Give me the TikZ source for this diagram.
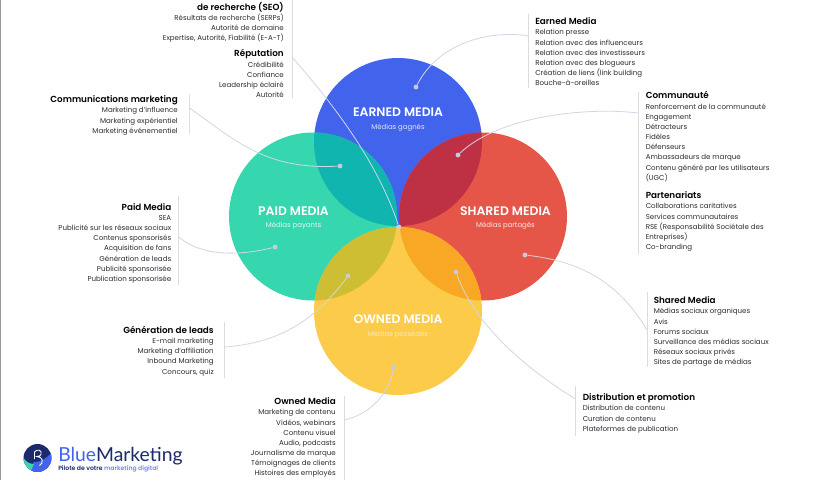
\documentclass[tikz,border=0pt]{standalone}
\usepackage{fontspec}
\setmainfont{Poppins}
\newfontfamily\hfont{Poppins SemiBold}
\newfontfamily\lfont{Lato}
\definecolor{cblue}{HTML}{4263EB}
\definecolor{cgreen}{HTML}{36D6AE}
\definecolor{cred}{HTML}{E55648}
\definecolor{cyellow}{HTML}{FBCB49}
\definecolor{cteal}{HTML}{10B5B0}
\definecolor{ccrim}{HTML}{BE3145}
\definecolor{colive}{HTML}{CDBE34}
\definecolor{corange}{HTML}{F8A825}
\definecolor{cline}{HTML}{D3D6E4}
\definecolor{cbar}{HTML}{DADCE2}
\definecolor{cdot}{HTML}{C7CCDD}
\definecolor{ctext}{HTML}{2C2C34}
\definecolor{cnavy}{HTML}{1A2A6C}
\tikzset{
  txt/.style={inner sep=0pt,font=\fontsize{5.3}{7.63}\selectfont,text=ctext},
  rtxt/.style={txt,anchor=north east,align=right},
  ltxt/.style={txt,anchor=north west,align=left},
  bar/.style={draw=cbar,line width=0.75pt},
  conn/.style={draw=cline,line width=0.6pt},
  dotn/.style={circle,fill=cdot,inner sep=0pt,minimum size=3.6pt},
  title/.style={inner sep=0pt,text=white,font=\hfont\fontsize{9.3}{10}\selectfont},
  sub/.style={inner sep=0pt,text=white,opacity=.85,font=\fontsize{5.2}{7}\selectfont},
}
\newcommand{\hd}[1]{{\hfont\fontsize{6.6}{7.63}\selectfont\color{black}#1}}
\begin{document}
\begin{tikzpicture}[x=0.75pt,y=-0.75pt]
\useasboundingbox (0,0) rectangle (840,480);
\fill[white] (0,0) rectangle (840,480);
\fill[gray!80] (0,0) rectangle (1,480);
% circles
\fill[cblue] (398,142) circle[radius=84];
\fill[cgreen] (313,216.5) circle[radius=84];
\fill[cred] (483,216.5) circle[radius=84];
\fill[cyellow] (398,311) circle[radius=84];
\begin{scope}\clip (398,142) circle[radius=84]; \fill[cteal] (313,216.5) circle[radius=84]; \fill[ccrim] (483,216.5) circle[radius=84]; \end{scope}
\begin{scope}\clip (398,311) circle[radius=84]; \fill[colive] (313,216.5) circle[radius=84]; \fill[corange] (483,216.5) circle[radius=84]; \end{scope}
% circle labels
\node[title] (tearned) at (398,112) {EARNED MEDIA};
\node[sub] (searned) at (398,127.5) {Médias gagnés};
\node[title] (tpaid) at (293.5,211) {PAID MEDIA};
\node[sub] (spaid) at (293.5,226) {Médias payants};
\node[title] (tshared) at (505.5,211) {SHARED MEDIA};
\node[sub] (sshared) at (505.5,226) {Médias partagés};
\node[title] (towned) at (398,319) {OWNED MEDIA};
\node[sub,opacity=.6] (sowned) at (398,334.5) {Médias possédés};
% bars
\coordinate (bseoT) at (292,0); \coordinate (bseoB) at (292,98); \coordinate (bseo) at (292,57);
\coordinate (bcomT) at (189.5,94); \coordinate (bcomB) at (189.5,134); \coordinate (bcom) at (189.5,108);
\coordinate (bpaidT) at (178.5,196); \coordinate (bpaidB) at (178.5,285); \coordinate (bpaid) at (178.5,237);
\coordinate (bleadT) at (224.5,322); \coordinate (bleadB) at (224.5,378); \coordinate (blead) at (224.5,347);
\coordinate (bownT) at (344.5,396); \coordinate (bownB) at (344.5,480); \coordinate (bown) at (344.5,420);
\coordinate (bdisT) at (575.5,386); \coordinate (bdisB) at (575.5,436); \coordinate (bdis) at (575.5,399);
\coordinate (bshaT) at (647,292); \coordinate (bshaB) at (647,367); \coordinate (bsha) at (647,330);
\coordinate (bcommT) at (638,92); \coordinate (bcommB) at (638,254); \coordinate (bcomm) at (638,113);
\coordinate (bearT) at (528.5,14); \coordinate (bearB) at (528.5,88); \coordinate (bear) at (528.5,36);
\foreach \n in {seo,com,paid,lead,own,dis,sha,comm,ear} \draw[bar] (b\n T) -- (b\n B);
% dots
\node[dotn] (dcenter) at (399,227) {};
\node[dotn] (dcom) at (340,166) {};
\node[dotn] (dpaid) at (275,247) {};
\node[dotn] (dlead) at (348,276) {};
\node[dotn] (down) at (394,367) {};
\node[dotn] (ddis) at (456,272) {};
\node[dotn] (dsha) at (525,255) {};
\node[dotn] (dcomm) at (458,155) {};
\node[dotn] (dear) at (416,87) {};
% connectors
\draw[conn] (bseo) .. controls (325,95) and (375,155) .. (dcenter);
\draw[conn] (bcom) .. controls (235,140) and (265,170) .. (dcom);
\draw[conn] (bpaid) .. controls (200,255) and (235,257) .. (dpaid);
\draw[conn] (blead) .. controls (280,343) and (315,320) .. (dlead);
\draw[conn] (bown) .. controls (370,414) and (388,395) .. (down);
\draw[conn] (bdis) .. controls (525,368) and (475,325) .. (ddis);
\draw[conn] (bsha) .. controls (620,285) and (585,262) .. (dsha);
\draw[conn] (bcomm) .. controls (590,107) and (500,115) .. (dcomm);
\draw[conn] (bear) .. controls (495,30) and (440,40) .. (dear);
% text blocks
\node[rtxt] (tseo) at (284,2) {\hd{de recherche (SEO)}\\Résultats de recherche (SERPs)\\Autorité de domaine\\Expertise, Autorité, Fiabilité (E-A-T)};
\node[rtxt] (trep) at (284,49.5) {\hd{Réputation}\\Crédibilité\\Confiance\\Leadership éclairé\\Autorité};
\node[rtxt] (tcom) at (178,95.5) {\hd{Communications marketing}\\Marketing d'influence\\Marketing expérientiel\\Marketing événementiel};
\node[rtxt] (tpm) at (171.5,203) {\hd{Paid Media}\\SEA\\Publicité sur les réseaux sociaux\\Contenus sponsorisés\\Acquisition de fans\\Génération de leads\\Publicité sponsorisée\\Publication sponsorisée};
\node[rtxt] (tlead) at (214,326) {\hd{Génération de leads}\\E-mail marketing\\Marketing d'affiliation\\Inbound Marketing\\Concours, quiz};
\node[rtxt] (town) at (336,397.5) {\hd{Owned Media}\\Marketing de contenu\\Vidéos, webinars\\Contenu visuel\\Audio, podcasts\\Journalisme de marque\\Témoignages de clients\\Histoires des employés};
\node[ltxt] (tear) at (535,17.5) {\hd{Earned Media}\\Relation presse\\Relation avec des influenceurs\\Relation avec des investisseurs\\Relation avec des blogueurs\\Création de liens (link building\\Bouche-à-oreilles};
\node[ltxt] (tcomm) at (645.5,91.5) {\hd{Communauté}\\Renforcement de la communauté\\Engagement\\Détracteurs\\Fidèles\\Défenseurs\\Ambassadeurs de marque\\Contenu généré par les utilisateurs\\(UGC)};
\node[ltxt] (tpart) at (645.5,191.5) {\hd{Partenariats}\\Collaborations caritatives\\Services communautaires\\RSE (Responsabilité Sociétale des\\Entreprises)\\Co-branding};
\node[ltxt] (tsha) at (653.5,296.5) {\hd{Shared Media}\\Médias sociaux organiques\\Avis\\Forums sociaux\\Surveillance des médias sociaux\\Réseaux sociaux privés\\Sites de partage de médias};
\node[ltxt] (tdis) at (582.5,393.5) {\hd{Distribution et promotion}\\Distribution de contenu\\Curation de contenu\\Plateformes de publication};
% logo
\fill[cnavy] (37.5,458) circle[radius=14];
\begin{scope}\clip (37.5,458) circle[radius=14];
\fill[cblue] (51.5,453) -- (51.5,473) -- (26,473) -- (34,462) .. controls (42,462) and (46,458) .. cycle;
\fill[cgreen] (23.5,458) .. controls (26,462) and (30,464) .. (34,464) -- (30,473) -- (23.5,473) -- cycle;
\end{scope}
\draw[white,line width=0.7pt] (34.5,452) .. controls (37,448.5) and (42.5,450) .. (41,454.5) .. controls (40.5,456) and (38.5,456.5) .. (37,456.5) .. controls (43,456.5) and (44,463) .. (39.5,465.5) (34.5,452) -- (34.5,459);
\node[inner sep=0pt,anchor=west,font=\lfont\fontsize{14.5}{16}\selectfont] (logo) at (58,456.5) {\textcolor{cblue}{Blue}\textcolor{cnavy}{Marketing}};
\node[inner sep=0pt,anchor=west,font=\hfont\fontsize{4.6}{6}\selectfont] (logosub) at (58,469) {\textcolor{cnavy}{Pilote de votre }\textcolor{cblue!75}{marketing digital}};
\end{tikzpicture}
\end{document}
